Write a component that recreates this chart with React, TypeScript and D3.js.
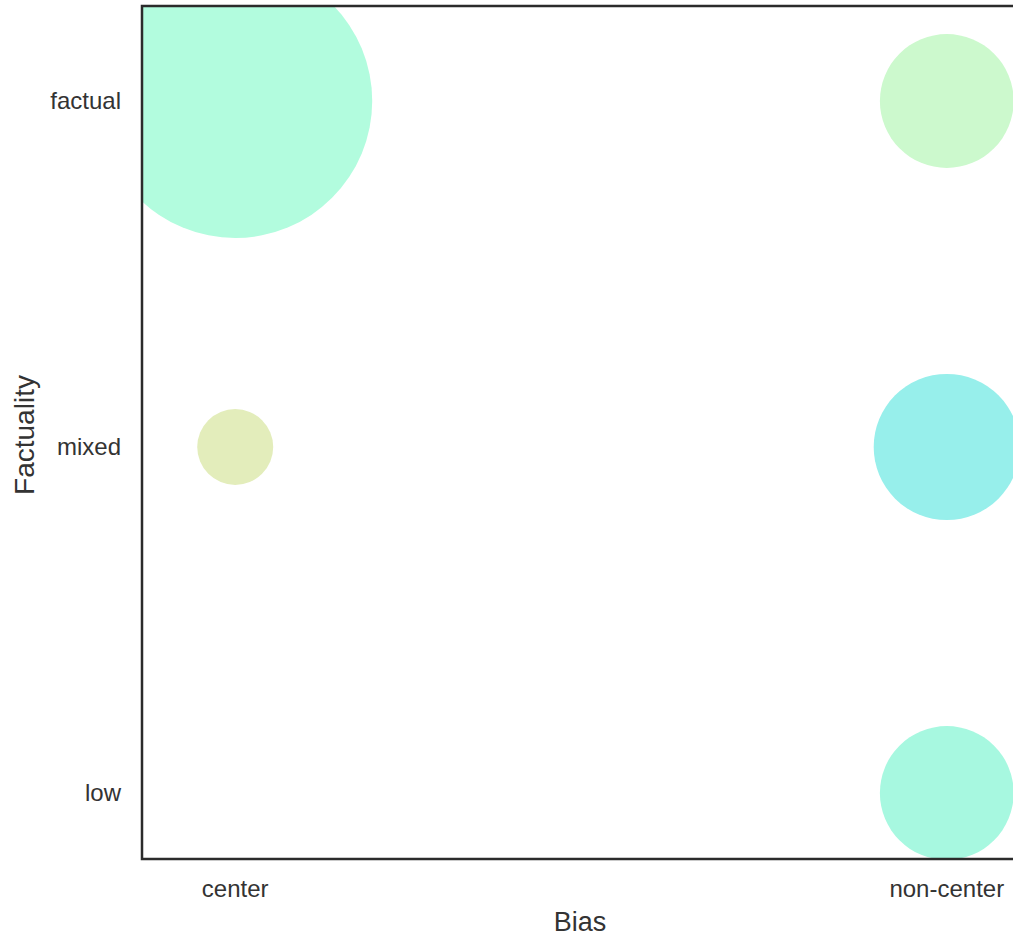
import React from "react";
import * as d3 from "d3";

const biasCategories = ["center", "non-center"];
const factualityCategories = ["factual", "mixed", "low"];

const pointBias = ["center", "non-center", "center", "non-center", "non-center"];
const pointFactuality = ["factual", "factual", "mixed", "mixed", "low"];
const pointCount = [130, 31, 10, 37, 31];
const pointColor = ["#b2fcde", "#ccf9cd", "#e3edbb", "#97efeb", "#a7f8e0"];

const W = 1013;
const H = 941;
const frame = { left: 142, top: 6, right: 1040, bottom: 859 };

export default function App() {
  const x = d3
    .scalePoint<string>()
    .domain(biasCategories)
    .range([frame.left, frame.right])
    .padding(0.131);
  const y = d3
    .scalePoint<string>()
    .domain(factualityCategories)
    .range([101, 793]);
  const r = d3
    .scaleSqrt()
    .domain([0, d3.max(pointCount) as number])
    .range([0, 137]);

  const font = "'Liberation Sans', Arial, Helvetica, sans-serif";
  const textColor = "#333333";

  return (
    <svg
      width={W}
      height={H}
      style={{ position: "absolute", left: 0, top: 0, background: "#fff" }}
      fontFamily={font}
    >
      <defs>
        <clipPath id="plotClip">
          <rect
            x={frame.left}
            y={frame.top}
            width={frame.right - frame.left}
            height={frame.bottom - frame.top}
          />
        </clipPath>
      </defs>
      <rect x={0} y={0} width={W} height={H} fill="#fff" />
      <g clipPath="url(#plotClip)">
        {pointCount.map((c, i) => (
          <circle
            key={i}
            cx={x(pointBias[i])}
            cy={y(pointFactuality[i])}
            r={r(c)}
            fill={pointColor[i]}
          />
        ))}
      </g>
      <rect
        x={frame.left}
        y={frame.top}
        width={frame.right - frame.left}
        height={frame.bottom - frame.top}
        fill="none"
        stroke="#2b2b2b"
        strokeWidth={2.5}
      />
      {factualityCategories.map((f) => (
        <text
          key={f}
          x={121}
          y={y(f)}
          dy="0.35em"
          textAnchor="end"
          fontSize={24}
          fill={textColor}
        >
          {f}
        </text>
      ))}
      {biasCategories.map((b) => (
        <text
          key={b}
          x={x(b)}
          y={889}
          dy="0.35em"
          textAnchor="middle"
          fontSize={24}
          fill={textColor}
        >
          {b}
        </text>
      ))}
      <text
        x={580}
        y={922}
        dy="0.35em"
        textAnchor="middle"
        fontSize={27}
        fill={textColor}
      >
        Bias
      </text>
      <text
        transform={`translate(24,435) rotate(-90)`}
        dy="0.35em"
        textAnchor="middle"
        fontSize={28}
        fill={textColor}
      >
        Factuality
      </text>
    </svg>
  );
}
